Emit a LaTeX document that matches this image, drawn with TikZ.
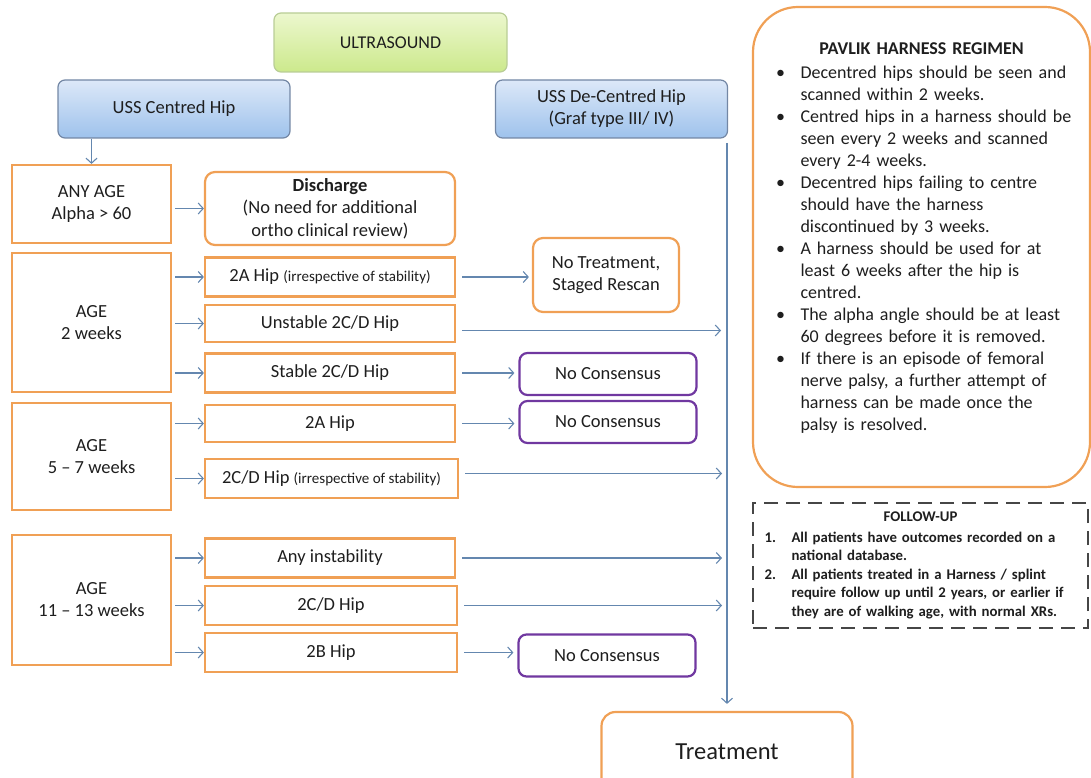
\documentclass[tikz,border=0pt]{standalone}
\usepackage{fontspec}
\setmainfont{Carlito}
\usepackage{enumitem}
\usetikzlibrary{positioning,arrows.meta}
\definecolor{boxorange}{RGB}{240,160,85}
\definecolor{flowblue}{RGB}{100,135,175}
\definecolor{nopurple}{RGB}{112,56,160}
\definecolor{ussedge}{RGB}{115,135,165}
\definecolor{scanedge}{RGB}{185,205,150}
\definecolor{textgrey}{RGB}{30,30,30}

\begin{document}
\begin{tikzpicture}[x=1pt, y=-1pt, text=textgrey,
>={Straight Barb[length=5pt,width=11pt]},
scanbox/.style={rectangle, rounded corners=7pt, draw=scanedge, line width=1.2pt, top color={rgb,255:red,236;green,247;blue,206}, bottom color={rgb,255:red,204;green,233;blue,140}, minimum width=233pt, minimum height=59pt, font=\fontsize{18}{22}\selectfont},
ussbox/.style={rectangle, rounded corners=7pt, draw=ussedge, line width=1.2pt, top color={rgb,255:red,220;green,232;blue,248}, bottom color={rgb,255:red,158;green,194;blue,236}, minimum width=232pt, minimum height=58pt, align=center, font=\fontsize{18.5}{22}\selectfont},
agebox/.style={rectangle, draw=boxorange, line width=2.2pt, minimum width=159pt, align=center, font=\fontsize{18.5}{22}\selectfont},
hipbox/.style={rectangle, draw=boxorange, line width=2.2pt, minimum width=250pt, minimum height=39pt, font=\fontsize{18.5}{22}\selectfont},
outcomebox/.style={rectangle, rounded corners=10pt, draw=boxorange, line width=2.2pt, align=center, font=\fontsize{18.5}{22.5}\selectfont},
consensusbox/.style={rectangle, rounded corners=8pt, draw=nopurple, line width=2.2pt, minimum width=177pt, minimum height=42pt, font=\fontsize{18.5}{22}\selectfont},
flow/.style={->, draw=flowblue, line width=1.1pt},
aside/.style={font=\fontsize{15}{18}\selectfont}
]
\useasboundingbox (0,0) rectangle (1091,778);

%Nodes
\node[scanbox]  (ultrasound)  at (390.5,42.5) {ULTRASOUND};
\node[ussbox]   (centred)     at (174,109)    {USS Centred Hip};
\node[ussbox]   (decentred)   at (611.5,109)  {USS De-Centred Hip\\(Graf type III/ IV)};

\node[agebox, minimum height=78pt]  (anyage)    at (91.5,204)   {ANY AGE\\Alpha > 60};
\node[agebox, minimum height=139pt] (agetwo)    at (91.5,322.5) {AGE\\2 weeks};
\node[agebox, minimum height=107pt] (agefive)   at (91.5,456.5) {AGE\\5 -- 7 weeks};
\node[agebox, minimum height=130pt] (ageeleven) at (91.5,600)   {AGE\\11 -- 13 weeks};

\node[outcomebox, minimum width=250pt, minimum height=73pt] (discharge) at (330,208.5)
  {\textbf{Discharge}\\(No need for additional\\ortho clinical review)};
\node[hipbox]   (twoAirr)     at (330,277)    {2A Hip {\fontsize{15}{18}\selectfont(irrespective of stability)}};
\node[hipbox, minimum height=37pt] (unstable) at (330,323.5) {Unstable 2C/D Hip};
\node[hipbox]   (stable)      at (330,373)    {Stable 2C/D Hip};
\node[hipbox, minimum height=37pt] (twoAfive) at (330,423.5) {2A Hip};
\node[hipbox, minimum width=253pt] (twoCDirr) at (331.5,478.5) {2C/D Hip {\fontsize{15}{18}\selectfont(irrespective of stability)}};
\node[hipbox]   (instability) at (330,558)    {Any instability};
\node[hipbox, minimum width=252pt] (twoCD) at (331,605.5) {2C/D Hip};
\node[hipbox, minimum width=252pt] (twoB)  at (331,652.5) {2B Hip};

\node[outcomebox, minimum width=146pt, minimum height=74pt] (notreatment) at (606,275) {No Treatment,\\Staged Rescan};
\node[consensusbox] (consensusA) at (608,374)   {No Consensus};
\node[consensusbox] (consensusB) at (608,422)   {No Consensus};
\node[consensusbox] (consensusC) at (607,655.5) {No Consensus};

\node[outcomebox, rounded corners=14pt, minimum width=251pt, minimum height=80pt, font=\fontsize{24.5}{28}\selectfont] (treatment) at (727,752) {Treatment};

\node[rectangle, rounded corners=45pt, draw=boxorange, line width=2.2pt, minimum width=337pt, minimum height=480pt, text width=300pt, font=\fontsize{18}{22}\selectfont] (pavlik) at (921.5,247)
{{\centering\textbf{PAVLIK HARNESS REGIMEN}\par}\raggedright
\begin{itemize}[labelindent=4.5pt, labelwidth=20pt, labelsep=4.5pt, leftmargin=29pt, align=left, topsep=0pt, itemsep=0pt, parsep=0pt, label=\textbullet]
\item Decentred hips should be seen and\\scanned within 2 weeks.
\item Centred hips in a harness should be\\seen every 2 weeks and scanned\\every 2-4 weeks.
\item Decentred hips failing to centre\\should have the harness\\discontinued by 3 weeks.
\item A harness should be used for at\\least 6 weeks after the hip is\\centred.
\item The alpha angle should be at least\\60 degrees before it is removed.
\item If there is an episode of femoral\\nerve palsy, a further attempt of\\harness can be made once the\\palsy is resolved.
\end{itemize}\vspace{16pt}};

\node[rectangle, draw={rgb,255:red,70;green,70;blue,70}, dash pattern=on 14pt off 8pt, line width=2pt, minimum width=335pt, minimum height=125pt, text width=312pt, font=\bfseries\fontsize{14.8}{18.5}\selectfont] (followup) at (920.5,565.5)
{{\centering FOLLOW-UP\par}\raggedright
\begin{enumerate}[leftmargin=27pt, labelwidth=27pt, labelsep=0pt, align=left, topsep=0pt, itemsep=0pt, parsep=0pt, label=\arabic*.]
\item All patients have outcomes recorded on a\\national database.
\item All patients treated in a Harness / splint\\require follow up until 2 years, or earlier if\\they are of walking age, with normal XRs.
\end{enumerate}};

\coordinate (drop) at (727,143);

%Lines
\draw[flow] (anyage.north |- centred.south) -- (anyage.north);
\draw[flow, shorten <=3pt] (anyage.east |- discharge.west) -- (discharge.west);
\draw[flow, shorten <=3pt] (agetwo.east |- twoAirr.west) -- (twoAirr.west);
\draw[flow, shorten <=3pt] (agetwo.east |- unstable.west) -- (unstable.west);
\draw[flow, shorten <=3pt] (agetwo.east |- stable.west) -- (stable.west);
\draw[flow, shorten <=3pt] (agefive.east |- twoAfive.west) -- (twoAfive.west);
\draw[flow, shorten <=3pt] (agefive.east |- twoCDirr.west) -- (twoCDirr.west);
\draw[flow, shorten <=3pt] (ageeleven.east |- instability.west) -- (instability.west);
\draw[flow, shorten <=3pt] (ageeleven.east |- twoCD.west) -- (twoCD.west);
\draw[flow, shorten <=3pt] (ageeleven.east |- twoB.west) -- (twoB.west);

\draw[flow, shorten <=6pt, shorten >=3pt] (twoAirr.east) -- (twoAirr.east -| notreatment.west);
\draw[flow, shorten <=6pt, shorten >=4pt] (stable.east) -- (stable.east -| consensusA.west);
\draw[flow, shorten <=6pt, shorten >=4pt] (twoAfive.east) -- (twoAfive.east -| consensusB.west);
\draw[flow, shorten <=6pt, shorten >=4pt] (twoB.east) -- (twoB.east -| consensusC.west);

\draw[flow, shorten <=6pt, shorten >=6pt] ([yshift=-7pt]unstable.east) -- ([yshift=-7pt]unstable.east -| drop);
\draw[flow, shorten <=6pt, shorten >=5pt] ([yshift=5pt]twoCDirr.east) -- ([yshift=5pt]twoCDirr.east -| drop);
\draw[flow, shorten <=6pt, shorten >=5pt] (instability.east) -- (instability.east -| drop);
\draw[flow, shorten <=6pt, shorten >=5pt] (twoCD.east) -- (twoCD.east -| drop);

\draw[flow, shorten >=7pt] (drop) -- (treatment.north);
\end{tikzpicture}
\end{document}
